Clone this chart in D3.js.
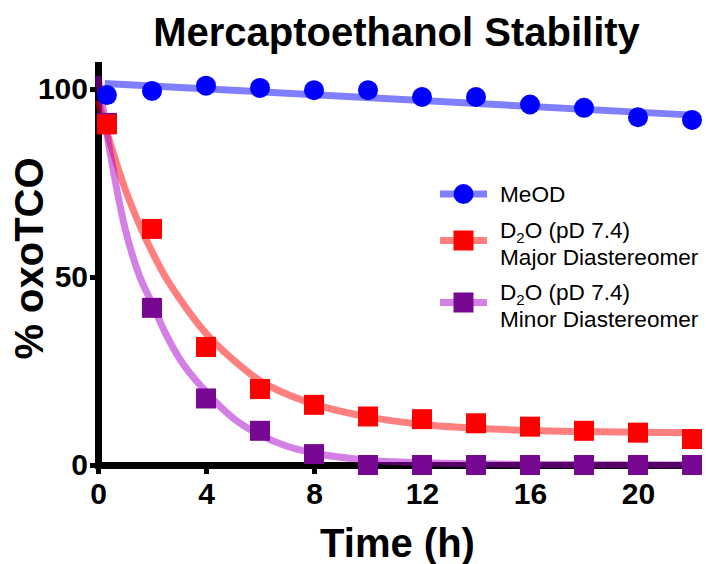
<!DOCTYPE html>
<html>
<head>
<meta charset="utf-8">
<script src="https://cdn.jsdelivr.net/npm/d3@7"></script>
<style>
  body { margin: 0; background: #fff; }
  svg { display: block; font-family: "Liberation Sans", Arial, sans-serif; }
</style>
</head>
<body>
<svg id="chart" width="706" height="564"></svg>
<script>
// measured points (h, % oxoTCO)
const times = [0.33, 2, 4, 6, 8, 10, 12, 14, 16, 18, 20, 22];
const meod = [98.4, 99.5, 100.9, 100.3, 99.7, 99.7, 97.9, 97.9, 95.9, 95.0, 92.5, 91.8];
const major = [90.6, 62.8, 31.4, 20.2, 16.0, 12.9, 12.2, 11.1, 10.2, 9.1, 8.6, 6.9];
const minor = [91.0, 41.8, 17.7, 9.1, 2.9, 0, 0, 0, 0, 0, 0, 0];

// fit curves
const meodFitTimes = [0.25, 22.2];
const meodFit = [101.5, 93.0];
const fitTimes = [0, 0.5, 1, 1.5, 2, 2.5, 3, 4, 5, 6, 7, 8, 10, 12, 14, 16, 18, 20, 22.2];
const majorFit = [97, 84.5, 73.5, 64.5, 56.8, 50, 44.5, 35, 28, 22.4, 18.8, 16.2, 12.8, 10.8, 9.8, 9.2, 8.9, 8.7, 8.6];
const minorFit = [103.5, 81, 63, 51, 43, 35, 28.5, 19.5, 12.5, 8, 5, 3.2, 1.3, 0.6, 0.3, 0.15, 0.1, 0.05, 0];

const xTicks = [0, 4, 8, 12, 16, 20];
const yTicks = [0, 50, 100];

const svg = d3.select("#chart");

const x = d3.scaleLinear().domain([0, 22.2]).range([98, 697.4]);
const y = d3.scaleLinear().domain([0, 106.4]).range([465, 65]);

// 軸
const xAxis = svg.append("g")
    .attr("transform", `translate(0,${y(0)})`)
    .call(d3.axisBottom(x).tickValues(xTicks).tickSize(9).tickPadding(9).tickSizeOuter(0));
const yAxis = svg.append("g")
    .attr("transform", `translate(${x(0)},0)`)
    .call(d3.axisLeft(y).tickValues(yTicks).tickSize(8).tickPadding(2).tickSizeOuter(0));

[xAxis, yAxis].forEach((a) => {
    a.select(".domain").attr("stroke", "#000").attr("stroke-width", 7).attr("stroke-linecap", "square");
    a.selectAll(".tick line").attr("stroke", "#000").attr("stroke-width", 5);
    a.selectAll(".tick text")
        .attr("fill", "#000")
        .style("font-size", "30px")
        .style("font-weight", "bold");
});

// フィット曲線
const series = [
    { t: meodFitTimes, v: meodFit, color: "#0000ff" },
    { t: fitTimes, v: majorFit, color: "#ff0000" },
    { t: fitTimes, v: minorFit, color: "#aa00cc" }
];
const line = d3.line()
    .x((d) => x(d[0]))
    .y((d) => y(d[1]))
    .curve(d3.curveMonotoneX);

svg.append("g")
    .selectAll("path")
    .data(series)
    .enter()
    .append("path")
    .attr("d", (s) => line(s.t.map((t, i) => [t, s.v[i]])))
    .attr("fill", "none")
    .attr("stroke", (s) => s.color)
    .attr("stroke-opacity", 0.5)
    .attr("stroke-width", 7);

// マーカー
const sq = 20;
svg.append("g")
    .selectAll("rect")
    .data(times.map((t, i) => [t, minor[i]]))
    .enter()
    .append("rect")
    .attr("x", (d) => x(d[0]) - sq / 2)
    .attr("y", (d) => y(d[1]) - sq / 2)
    .attr("width", sq)
    .attr("height", sq)
    .attr("fill", "#760891");

svg.append("g")
    .selectAll("rect")
    .data(times.map((t, i) => [t, major[i]]))
    .enter()
    .append("rect")
    .attr("x", (d) => x(d[0]) - sq / 2)
    .attr("y", (d) => y(d[1]) - sq / 2)
    .attr("width", sq)
    .attr("height", sq)
    .attr("fill", "#ff0000");

svg.append("g")
    .selectAll("circle")
    .data(times.map((t, i) => [t, meod[i]]))
    .enter()
    .append("circle")
    .attr("cx", (d) => x(d[0]))
    .attr("cy", (d) => y(d[1]))
    .attr("r", 10)
    .attr("fill", "#0000ff");

// タイトル
svg.append("text")
    .attr("x", 396.5)
    .attr("y", 46)
    .attr("text-anchor", "middle")
    .style("font-size", "40px")
    .style("font-weight", "bold")
    .text("Mercaptoethanol Stability");

svg.append("text")
    .attr("x", 397.5)
    .attr("y", 557)
    .attr("text-anchor", "middle")
    .style("font-size", "40px")
    .style("font-weight", "bold")
    .text("Time (h)");

svg.append("text")
    .attr("transform", "translate(43,258.5) rotate(-90)")
    .attr("text-anchor", "middle")
    .style("font-size", "40px")
    .style("font-weight", "bold")
    .text("% oxoTCO");

// 凡例
const legend = svg.append("g").style("font-size", "22.6px");
const legendItems = [
    { y: 194, color: "#0000ff", lineColor: "#0000ff", shape: "circle", lines: ["MeOD"] },
    { y: 240.5, color: "#ff0000", lineColor: "#ff0000", shape: "rect", lines: ["D2O (pD 7.4)", "Major Diastereomer"] },
    { y: 302.5, color: "#760891", lineColor: "#aa00cc", shape: "rect", lines: ["D2O (pD 7.4)", "Minor Diastereomer"] }
];
legendItems.forEach((it) => {
    legend.append("line")
        .attr("x1", 440).attr("x2", 487)
        .attr("y1", it.y).attr("y2", it.y)
        .attr("stroke", it.lineColor)
        .attr("stroke-opacity", 0.5)
        .attr("stroke-width", 7);
    if (it.shape === "circle") {
        legend.append("circle").attr("cx", 463.5).attr("cy", it.y).attr("r", 10).attr("fill", it.color);
    } else {
        legend.append("rect").attr("x", 453.5).attr("y", it.y - 10).attr("width", 20).attr("height", 20).attr("fill", it.color);
    }
    it.lines.forEach((txt, i) => {
        const t = legend.append("text")
            .attr("x", 500)
            .attr("y", it.lines.length === 1 ? it.y + 8 : it.y - 2.5 + i * 27);
        if (txt.startsWith("D2O")) {
            t.append("tspan").text("D");
            t.append("tspan").attr("dy", 5).style("font-size", "15px").text("2");
            t.append("tspan").attr("dy", -5).text("O" + txt.slice(3));
        } else {
            t.text(txt);
        }
    });
});
</script>
</body>
</html>
